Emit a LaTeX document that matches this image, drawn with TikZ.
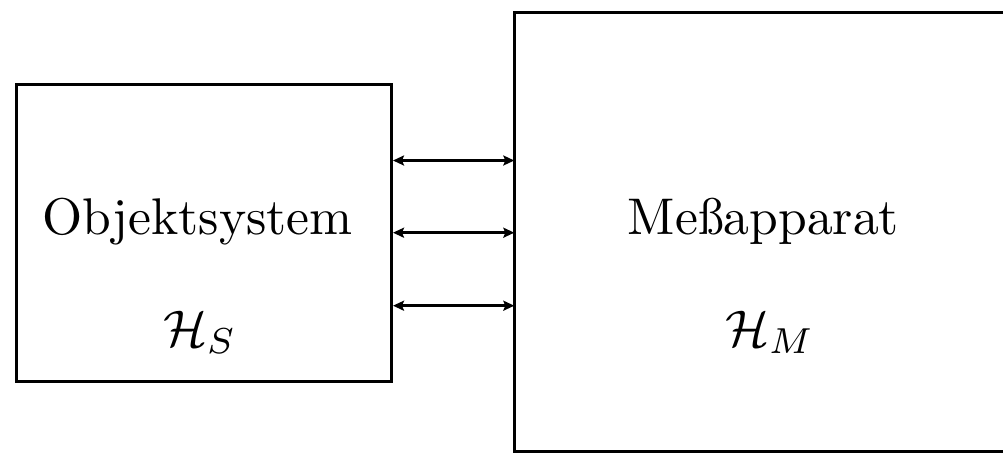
\documentclass[tikz,border=0pt]{standalone}
\usetikzlibrary{arrows.meta}
\begin{document}
\begin{tikzpicture}[x=1pt,y=-1pt,
  box/.style={draw,line width=3pt,minimum width=#1,inner sep=0pt},
  lbl/.style={anchor=base,scale=5.16,transform shape,inner sep=0pt},
  arr/.style={line width=2.5pt,{Stealth[length=11pt,width=10pt,inset=2pt]}-{Stealth[length=11pt,width=10pt,inset=2pt]}}]
\useasboundingbox (0,0) rectangle (1003,453);
\node[box=375pt,minimum height=297pt] (L) at (204,233) {};
\node[minimum width=580pt,minimum height=439pt,inner sep=0pt] (R) at (804.5,232) {};
\draw[line width=3pt] (R.north -| 1003,0) -- (R.north west) -- (R.south west) -- (R.south -| 1003,0);
\coordinate (a1) at (450,160.5);
\coordinate (a2) at (450,232.7);
\coordinate (a3) at (450,305.7);
\draw[arr] (L.east |- a1) -- (R.west |- a1);
\draw[arr] (L.east |- a2) -- (R.west |- a2);
\draw[arr] (L.east |- a3) -- (R.west |- a3);
\node[lbl] (t1) at (197.5,234) {Objektsystem};
\node[lbl] (h1) at (200,346) {$\mathcal{H}_S$};
\node[lbl] (t2) at (763.5,234) {Meßapparat};
\node[lbl] (h2) at (770,346) {$\mathcal{H}_M$};
\end{tikzpicture}
\end{document}
